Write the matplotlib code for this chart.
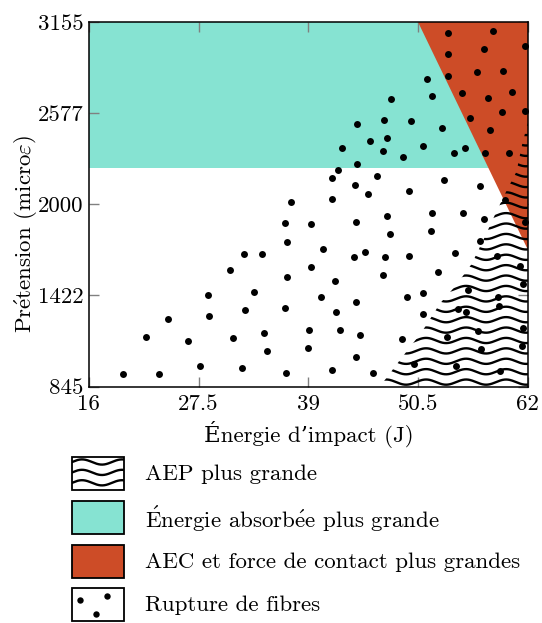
import numpy as np
import matplotlib
matplotlib.use("Agg")
import matplotlib.pyplot as plt
from matplotlib.patches import Polygon, Rectangle

plt.rcParams['font.family'] = ['cmr10', 'DejaVu Serif']
plt.rcParams['mathtext.fontset'] = 'cm'
plt.rcParams['axes.formatter.use_mathtext'] = True
FS = 16.5

# ---------------- data ----------------
x_ticks = [16, 27.5, 39, 50.5, 62]
x_tick_labels = ["16", "27.5", "39", "50.5", "62"]
y_ticks = [845, 1422.5, 2000, 2577.5, 3155]
y_tick_labels = ["845", "1422", "2000", "2577", "3155"]

# region: Énergie absorbée plus grande (band)
absorbed_y = [2230, 3155]
# region: AEC et force de contact plus grandes (polygon)
aec_x = [50.5, 62, 62]
aec_y = [3155, 3155, 1710]
# region: AEP plus grande (polygon)
aep_x = [46.5, 48.6, 50.9, 52.8, 54.5, 56.1, 57.3, 58.7, 59.8, 60.8, 61.4, 62, 62]
aep_y = [845, 1013, 1192, 1372, 1488, 1621, 1769, 1953, 2090, 2206, 2380, 2520, 845]

# Rupture de fibres points
rupture_x = [53.6, 58.3, 61.7, 57.4, 53.66, 53.66, 56.64, 59.43, 51.43, 51.99,
             55.07, 57.85, 60.37, 59.26, 61.73, 47.69, 55.97, 44.07, 46.93, 49.76,
             52.97, 58.03, 45.46, 47.21, 42.50, 46.82, 50.98, 48.95, 54.29, 55.41,
             57.54, 60.05, 44.10, 42.08, 41.45, 46.16, 43.86, 53.24, 56.95, 45.22,
             49.51, 41.51, 37.22, 59.64, 36.52, 39.25, 43.99, 47.27, 51.99, 55.20,
             57.37, 61.73, 36.77, 47.56, 51.82, 56.95, 32.23, 34.11, 40.54, 43.82,
             44.94, 47.06, 49.58, 54.33, 58.73, 30.79, 36.80, 39.31, 41.79, 46.85,
             52.62, 61.21, 61.49, 28.52, 33.28, 36.59, 40.36, 43.99, 41.87, 49.34,
             50.98, 55.70, 58.84, 59.01, 24.33, 28.62, 32.33, 51.04, 54.71, 55.49,
             22.02, 26.36, 31.11, 34.36, 39.10, 42.29, 44.44, 48.81, 53.53, 56.78,
             61.52, 34.64, 38.93, 44.03, 57.06, 61.35, 19.58, 23.39, 27.65, 32.05,
             36.66, 41.45, 45.81, 50.04, 54.47, 59.08]
rupture_y = [3083, 3098, 3003, 2982, 2950, 2811, 2836, 2843, 2792, 2688,
             2703, 2671, 2709, 2585, 2591, 2669, 2545, 2509, 2534, 2530,
             2485, 2469, 2401, 2418, 2358, 2336, 2369, 2299, 2325, 2356,
             2325, 2327, 2255, 2219, 2164, 2179, 2122, 2152, 2116, 2065,
             2084, 2033, 2014, 2024, 1879, 1873, 1889, 1926, 1943, 1943,
             1908, 1886, 1763, 1810, 1830, 1769, 1683, 1683, 1715, 1668,
             1699, 1666, 1670, 1689, 1672, 1583, 1537, 1600, 1514, 1554,
             1571, 1611, 1496, 1425, 1442, 1344, 1414, 1379, 1319, 1410,
             1436, 1455, 1414, 1357, 1275, 1294, 1328, 1304, 1338, 1315,
             1161, 1135, 1152, 1186, 1203, 1203, 1169, 1146, 1161, 1199,
             1216, 1072, 1091, 1032, 1081, 1104, 922, 922, 977, 962,
             932, 948, 932, 988, 975, 943]

legend_labels = ["AEP plus grande",
                 "$\\acute{\\mathrm{E}}$nergie absorb$\\acute{\\mathrm{e}}$e plus grande",
                 "AEC et force de contact plus grandes", "Rupture de fibres"]
x_label = "Énergie d’impact (J)"
y_label = "Pr$\\acute{\\mathrm{e}}$tension (micro$\\varepsilon$)"

TEAL = "#86e3d2"
RED = "#cd4c27"
W, H = 542, 623

fig = plt.figure(figsize=(W / 100, H / 100), dpi=100)
ax = fig.add_axes([88.8 / W, 1 - 386.5 / H, (527.9 - 88.8) / W, (386.5 - 22) / H])
ax.set_xlim(x_ticks[0], x_ticks[-1])
ax.set_ylim(y_ticks[0], y_ticks[-1])

# regions
ax.add_patch(Rectangle((x_ticks[0], absorbed_y[0]), x_ticks[-1] - x_ticks[0],
                       absorbed_y[1] - absorbed_y[0], facecolor=TEAL, edgecolor='none', zorder=1))
ax.add_patch(Polygon(np.column_stack([aec_x, aec_y]), closed=True,
                     facecolor=RED, edgecolor='none', zorder=2))
aep_patch = Polygon(np.column_stack([aep_x, aep_y]), closed=True,
                    facecolor='none', edgecolor='none', zorder=3)
ax.add_patch(aep_patch)

# wave hatch (pattern in pixel units converted to data units)
px_x = ax.get_position().width * W / (x_ticks[-1] - x_ticks[0])
px_y = ax.get_position().height * H / (y_ticks[-1] - y_ticks[0])
period = 40 / px_x
amp = 2.6 / px_y
spacing = 10.4 / px_y
xs = np.linspace(40, 63, 600)
yb = y_ticks[0] - 6 / px_y
while yb < 2700:
    ln, = ax.plot(xs, yb + amp * np.sin(2 * np.pi * xs / period), color='black',
                  lw=1.7, zorder=4, solid_capstyle='round')
    ln.set_clip_path(aep_patch)
    yb += spacing

ax.plot(rupture_x, rupture_y, 'o', color='black', ms=5.0, mec='none', zorder=5)

ax.set_xticks(x_ticks)
ax.set_xticklabels(x_tick_labels, fontsize=FS)
ax.set_yticks(y_ticks)
ax.set_yticklabels(y_tick_labels, fontsize=FS)
ax.tick_params(direction='in', length=7, width=1.0, color='#808080',
               top=True, right=True, pad=4)
ax.tick_params(axis='x', pad=6)
for s in ax.spines.values():
    s.set_linewidth(1.1)
    s.set_zorder(6)

# overlay in pixel coordinates for labels and legend
lax = fig.add_axes([0, 0, 1, 1], zorder=10)
lax.set_xlim(0, W)
lax.set_ylim(H, 0)
lax.axis('off')
lax.patch.set_alpha(0)

lax.text(309, 435, x_label, ha='center', va='center', fontsize=FS)
lax.text(26, 234, y_label, ha='center', va='center', rotation=90, fontsize=FS)

box_x, box_w, box_h = 72, 52, 33
box_tops = [457, 501, 545, 588]
fills = ['white', TEAL, RED, 'white']
for i, (top, lab) in enumerate(zip(box_tops, legend_labels)):
    lax.add_patch(Rectangle((box_x, top), box_w, box_h, facecolor=fills[i],
                            edgecolor='none', zorder=1))
    lax.add_patch(Rectangle((box_x, top), box_w, box_h, facecolor='none',
                            edgecolor='black', lw=1.3, zorder=5))
    lax.text(145, top + box_h / 2 + 1, lab, ha='left', va='center', fontsize=FS)
    if i == 0:
        clip = Rectangle((box_x, top), box_w, box_h, transform=lax.transData)
        wx = np.linspace(box_x - 5, box_x + box_w + 5, 200)
        for k in range(4):
            yy = top + 5 + k * 10.4 - 2.6 * np.sin(2 * np.pi * (wx - box_x) / 40)
            wl, = lax.plot(wx, yy, color='black', lw=1.7, zorder=3)
            wl.set_clip_path(clip)
    if i == 3:
        lax.plot([box_x + 8, box_x + 35, box_x + 24], [top + 12, top + 8, top + 26],
                 'o', color='black', ms=4.6, mec='none', zorder=4)

fig.savefig("out.png", dpi=100)
